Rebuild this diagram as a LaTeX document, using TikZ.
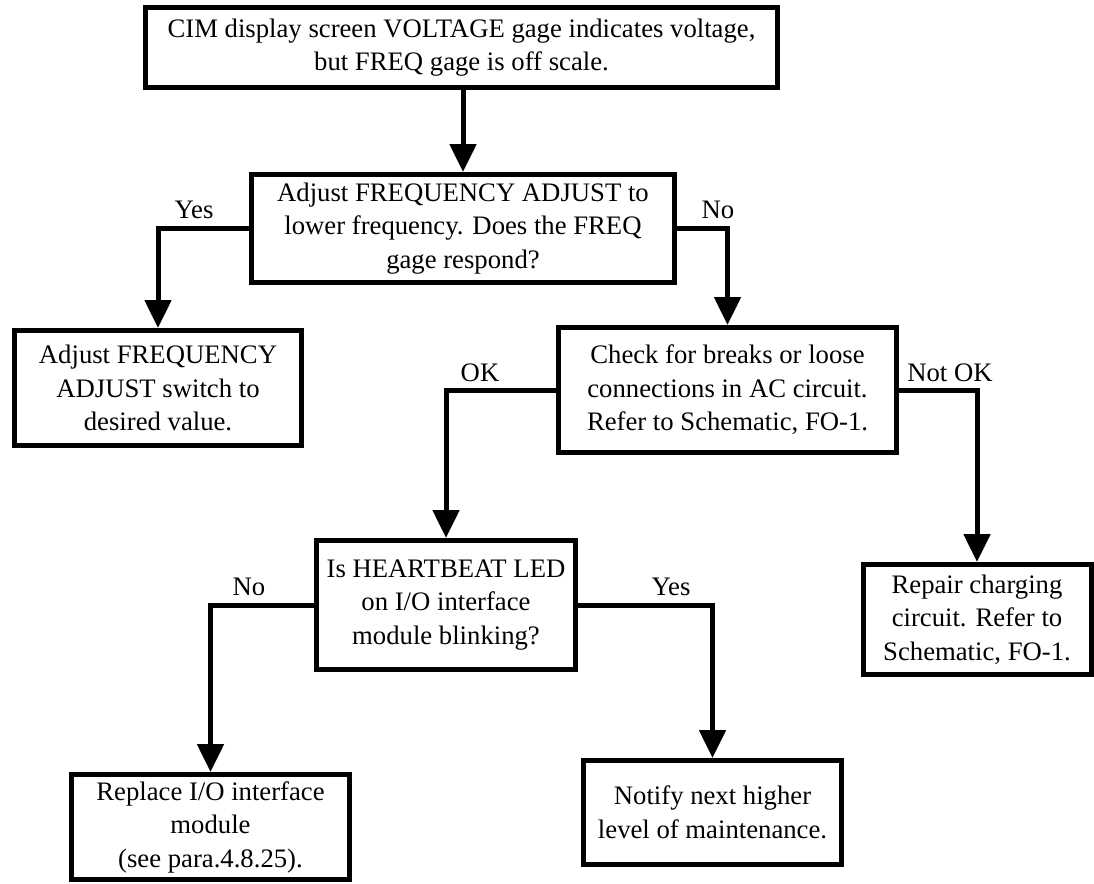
\documentclass[tikz,border=0pt]{standalone}
\usepackage{fontspec}
\setmainfont{Liberation Serif}
\usetikzlibrary{arrows.meta}
\begin{document}
\begin{tikzpicture}[x=1pt,y=-1pt,
  box/.style={draw,line width=5pt,inner sep=0pt,align=center,font=\fontsize{26.7}{33.5}\selectfont},
  arr/.style={line width=5pt,-{Triangle[length=28pt,width=26pt]}},
  lbl/.style={font=\fontsize{26.7}{33.5}\selectfont,inner sep=0pt}]
\useasboundingbox (0,0) rectangle (1094,883);
\node[box,minimum width=632pt,minimum height=80pt] (b1) at (461.5,47.5)
  {CIM display screen VOLTAGE gage indicates voltage,\\but FREQ gage is off scale.};
\node[box,minimum width=423pt,minimum height=108pt] (b2) at (463,228.5)
  {Adjust FREQUENCY ADJUST to\\lower frequency. Does the FREQ\\gage respond?};
\node[box,minimum width=287pt,minimum height=115pt] (b3) at (158,388)
  {Adjust FREQUENCY\\ADJUST switch to\\desired value.};
\node[box,minimum width=338pt,minimum height=125pt] (b4) at (727.5,390)
  {Check for breaks or loose\\connections in AC circuit.\\Refer to Schematic, FO-1.};
\node[box,minimum width=259pt,minimum height=129pt] (b5) at (446,605)
  {Is HEARTBEAT LED\\on I/O interface\\module blinking?};
\node[box,minimum width=228pt,minimum height=110pt] (b6) at (977,619.5)
  {Repair charging\\circuit. Refer to\\Schematic, FO-1.};
\node[box,minimum width=278pt,minimum height=105pt] (b7) at (210.5,827)
  {Replace I/O interface\\module\\(see para.4.8.25).};
\node[box,minimum width=258pt,minimum height=104pt] (b8) at (712.5,812.5)
  {Notify next higher\\level of maintenance.};
\draw[arr] (b2.north |- b1.south) -- (b2.north);
\draw[arr] (b2.west) -| (b3.north);
\draw[arr] (b2.east) -| (b4.north);
\draw[arr] (b4.west) -| (b5.north);
\draw[arr] (b4.east) -| (b6.north);
\draw[arr] (b5.west) -| (b7.north);
\draw[arr] (b5.east) -| (b8.north);
\node[lbl] (l1) at (194,210) {Yes};
\node[lbl] (l2) at (718,210) {No};
\node[lbl] (l3) at (480,373) {OK};
\node[lbl] (l4) at (950,373) {Not OK};
\node[lbl] (l5) at (249,587) {No};
\node[lbl] (l6) at (671,587) {Yes};
\end{tikzpicture}
\end{document}
